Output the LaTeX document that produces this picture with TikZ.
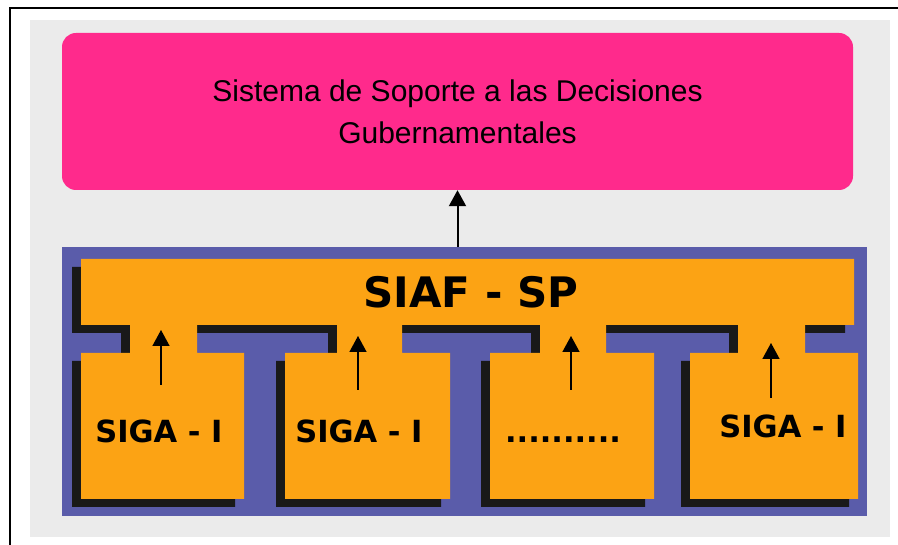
\documentclass[tikz,border=0pt]{standalone}
\usepackage{fontspec}
\usepackage{tikz}
\usetikzlibrary{arrows.meta, positioning, shadows}
\newfontfamily\ssdfont{Liberation Sans}
\newfontfamily\sigafont{DejaVu Sans}
\definecolor{bggray}{RGB}{235,235,235}
\definecolor{ssdpink}{RGB}{255,42,140}
\definecolor{spblue}{RGB}{90,92,170}
\definecolor{sigaorange}{RGB}{252,163,20}
\tikzstyle{ssdbox} = [fill=ssdpink, rectangle, rounded corners=14pt, align=center, font=\ssdfont\fontsize{30}{42}\selectfont]
\tikzstyle{spframe} = [fill=spblue, rectangle]
\tikzstyle{sigalabel} = [font=\sigafont\bfseries\fontsize{30.5}{36}\selectfont, text height=22pt, text depth=0pt]

\begin{document}
\begin{tikzpicture}[x=1pt,y=-1pt,>={Triangle[width=17pt,length=16pt]}]
  \useasboundingbox (0,0) rectangle (898,545);
  \fill[bggray] (30,20) rectangle (890,537);
  \draw[line width=2.5pt] (10,545) -- (10,8) -- (898,8);
  \node[ssdbox, minimum width=791pt, minimum height=157pt] (ssd) at (457.5,111.5) {Sistema de Soporte a las Decisiones\\Gubernamentales};
  \node[spframe, minimum width=805pt, minimum height=269pt] (sp) at (464.5,381.5) {};
  % bar, necks and boxes in one piece, with its shadow
  \fill[sigaorange, drop shadow={shadow xshift=-9pt, shadow yshift=-8pt, fill=black!90, opacity=1}]
    (81,259) rectangle (854,325)
    (130,324) rectangle (197,354) (337,324) rectangle (402,354)
    (540,324) rectangle (606,354) (738,324) rectangle (805,354)
    (81,353) rectangle (244,499) (285,353) rectangle (450,499)
    (490,353) rectangle (654,499) (690,353) rectangle (858,499);
  \node[font=\sigafont\bfseries\fontsize{42}{48}\selectfont] (siaf) at (471,292.5) {SIAF - SP};
  \node[sigalabel] (siga1) at (159,432) {SIGA - I};
  \node[sigalabel, right of=siga1, node distance=200pt] (siga2) {SIGA - I};
  \node[sigalabel, right of=siga2, node distance=204pt] (dots) {..........};
  \node[sigalabel, right of=dots, node distance=220pt, yshift=5pt] (siga4) {SIGA - I};
  \draw[->, line width=2pt] (ssd.south |- sp.north) -- (ssd.south);
  \foreach \i/\x/\ya/\yb in {1/161/385/330, 2/358/390/336, 3/571/390/336, 4/771/398/343} {
    \coordinate (tail\i) at (\x,\ya);
    \coordinate (head\i) at (\x,\yb);
    \draw[->, line width=1.5pt] (tail\i) -- (head\i);
  }
\end{tikzpicture}
\end{document}
